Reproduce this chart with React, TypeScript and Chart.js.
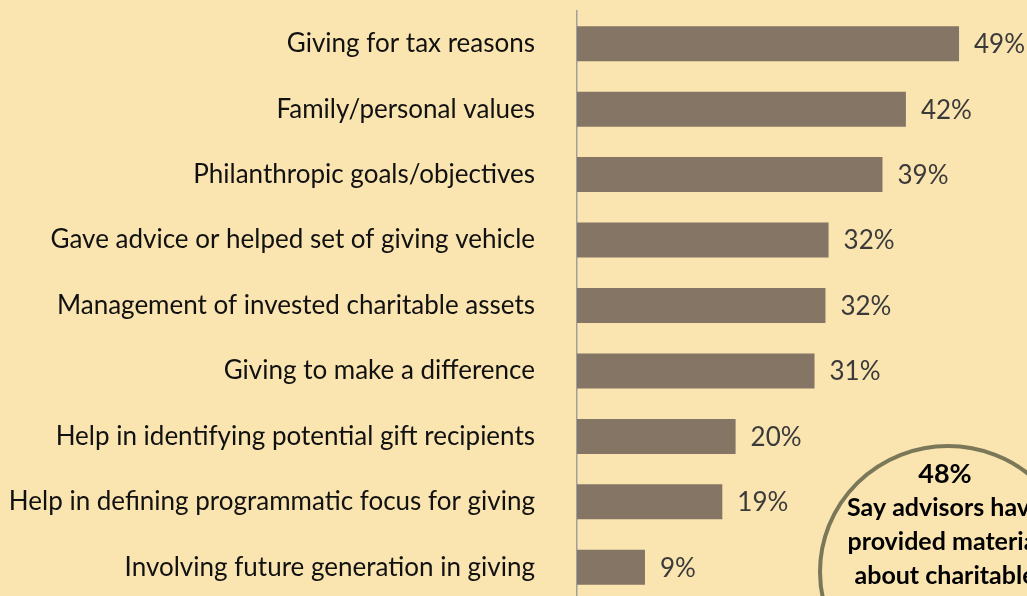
import React, { useEffect, useRef } from "react";
import { Chart, registerables } from "chart.js";

Chart.register(...registerables);

const categories = [
  "Giving for tax reasons",
  "Family/personal values",
  "Philanthropic goals/objectives",
  "Gave advice or helped set of giving vehicle",
  "Management of invested charitable assets",
  "Giving to make a difference",
  "Help in identifying potential gift recipients",
  "Help in defining programmatic focus for giving",
  "Involving future generation in giving",
];
const values = [48.9, 42.1, 39.1, 32.2, 31.8, 30.4, 20.3, 18.6, 8.7];
const valueLabels = ["49%", "42%", "39%", "32%", "32%", "31%", "20%", "19%", "9%"];
const calloutLines = ["48%", "Say advisors have", "provided material", "about charitable"];

const BG = "#FAE5B0";
const BAR = "#857564";
const FONT = "Lato, 'Open Sans', sans-serif";

const valueLabelPlugin = {
  id: "valueLabels",
  afterDatasetsDraw(chart: any) {
    const ctx = chart.ctx;
    const meta = chart.getDatasetMeta(0);
    ctx.save();
    ctx.font = `26px ${FONT}`;
    ctx.fillStyle = "#3a3a3a";
    ctx.textAlign = "left";
    ctx.textBaseline = "middle";
    meta.data.forEach((bar: any, i: number) => {
      ctx.fillText(valueLabels[i], bar.x + 15, bar.y + 1);
    });
    ctx.restore();
  },
};

const calloutPlugin = {
  id: "callout",
  afterDraw(chart: any) {
    const ctx = chart.ctx;
    const ca = chart.chartArea;
    const cx = ca.left + 371;
    const cy = ca.top + 561;
    ctx.save();
    ctx.beginPath();
    ctx.ellipse(cx, cy, 128, 126, 0, 0, Math.PI * 2);
    ctx.fillStyle = BG;
    ctx.fill();
    ctx.lineWidth = 4;
    ctx.strokeStyle = "#7b7759";
    ctx.stroke();
    ctx.fillStyle = "#000";
    ctx.textAlign = "center";
    ctx.textBaseline = "middle";
    calloutLines.forEach((line, i) => {
      ctx.font = i === 0 ? `bold 27px ${FONT}` : `bold 25px ${FONT}`;
      ctx.fillText(line, cx - 3, cy - 98 + i * 34);
    });
    ctx.restore();
  },
};

export default function App() {
  const ref = useRef<HTMLCanvasElement>(null);
  useEffect(() => {
    if (!ref.current) return;
    const chart = new Chart(ref.current, {
      type: "bar",
      data: {
        labels: categories,
        datasets: [
          {
            data: values,
            backgroundColor: BAR,
            borderWidth: 0,
            barPercentage: 0.535,
            categoryPercentage: 1,
          },
        ],
      },
      options: {
        indexAxis: "y",
        animation: false,
        responsive: false,
        layout: { padding: { top: 11, right: 0, bottom: 0, left: 0 } },
        plugins: { legend: { display: false }, tooltip: { enabled: false } },
        scales: {
          x: { display: false, min: 0, max: 57.6 },
          y: {
            afterFit(scale: any) {
              scale.width = 577;
              scale.paddingTop = 0;
              scale.paddingBottom = 0;
            },
            grid: { display: false, drawTicks: false },
            border: { display: true, color: "#a0a0a0", width: 1.5 },
            ticks: {
              autoSkip: false,
              padding: 42,
              color: "#111111",
              font: { family: FONT, size: 26 },
            },
          },
        },
      },
      plugins: [valueLabelPlugin, calloutPlugin],
    });
    return () => chart.destroy();
  }, []);
  return (
    <div
      style={{
        position: "fixed",
        left: 0,
        top: 0,
        width: 1027,
        height: 596,
        overflow: "hidden",
        background: BG,
      }}
    >
      <canvas ref={ref} width={1027} height={600} style={{ display: "block" }} />
    </div>
  );
}
